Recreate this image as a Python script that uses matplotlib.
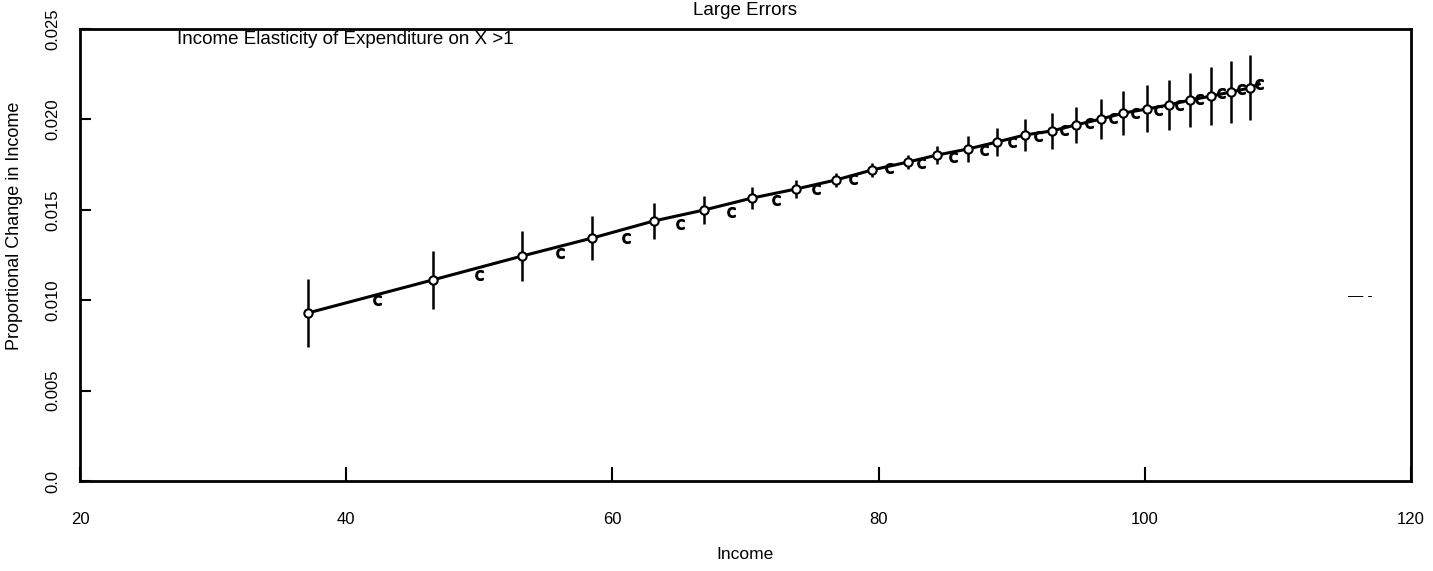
import numpy as np
import matplotlib
matplotlib.use("Agg")
import matplotlib.pyplot as plt

plt.rcParams['font.family'] = ['Liberation Sans', 'DejaVu Sans']

# points with error bars
income = [37.1, 46.5, 53.2, 58.5, 63.1, 66.9, 70.5, 73.8, 76.8, 79.5,
          82.2, 84.4, 86.7, 88.9, 91.0, 93.0, 94.8, 96.7, 98.4, 100.2,
          101.8, 103.4, 105.0, 106.5, 107.9]
prop_change = [0.00929, 0.01112, 0.01244, 0.01344, 0.01438, 0.01499, 0.01565,
               0.01615, 0.01665, 0.01720, 0.01764, 0.01803, 0.01836, 0.01875,
               0.01914, 0.01936, 0.01969, 0.02002, 0.02035, 0.02058, 0.02080,
               0.02107, 0.02129, 0.02152, 0.02174]
err = [0.0019, 0.0016, 0.0014, 0.0012, 0.0010, 0.0008, 0.0006, 0.0005, 0.0004,
       0.0004, 0.0004, 0.0005, 0.0007, 0.0008, 0.0009, 0.0010, 0.0010, 0.0011,
       0.0012, 0.0013, 0.0014, 0.0015, 0.0016, 0.0017, 0.0018]

# "c" points in between
income_c = [42.3, 50.0, 56.1, 61.0, 65.1, 68.9, 72.3, 75.3, 78.1, 80.8,
            83.2, 85.6, 87.9, 90.0, 92.0, 93.9, 95.8, 97.6, 99.3, 101.0,
            102.6, 104.1, 105.7, 107.2, 108.6]
prop_c = [0.01001, 0.01139, 0.01261, 0.01344, 0.01421, 0.01488, 0.01554,
          0.01615, 0.01670, 0.01731, 0.01759, 0.01792, 0.01831, 0.01875,
          0.01908, 0.01941, 0.01980, 0.02008, 0.02035, 0.02052, 0.02080,
          0.02113, 0.02146, 0.02168, 0.02196]

xticks = [20, 40, 60, 80, 100, 120]
yticks = [0.0, 0.005, 0.010, 0.015, 0.020, 0.025]
ytick_labels = ['0.0', '0.005', '0.010', '0.015', '0.020', '0.025']

fig = plt.figure(figsize=(14.33, 5.71), dpi=100)
ax = fig.add_axes([0.0558, 0.1576, 0.9288, 0.7916])

# line runs through the circles and out to the last c
line_x = income + [income_c[-1]]
line_y = prop_change + [prop_c[-1]]
ax.plot(line_x, line_y, color='black', lw=2.2, zorder=2)

ax.errorbar(income, prop_change, yerr=err, fmt='none', ecolor='black',
            elinewidth=1.8, capsize=0, zorder=3)
ax.plot(income, prop_change, 'o', mfc='white', mec='black', mew=1.5,
        ms=6, zorder=4)
ax.plot(income_c, prop_c, ls='none', marker=r'$\mathrm{c}$', color='black',
        ms=7, zorder=4)

ax.set_xlim(20, 120)
ax.set_ylim(0, 0.025)
ax.set_xticks(xticks)
ax.set_xticklabels([str(t) for t in xticks])
ax.set_yticks(yticks)
ax.set_yticklabels(ytick_labels, rotation=90, va='center')

ax.tick_params(axis='x', direction='in', length=10, width=1.5, pad=22,
               labelsize=12)
ax.tick_params(axis='y', direction='in', length=8, width=1.5, pad=14,
               labelsize=12)
for s in ax.spines.values():
    s.set_linewidth(2)

ax.set_xlabel('Income', fontsize=12.5, labelpad=15)
ax.set_ylabel('Proportional Change in Income', fontsize=13)
ax.yaxis.set_label_coords(-0.043, 0.565)
ax.set_title('Large Errors', fontsize=13.5, pad=10)

ax.text(27.3, 0.02417, 'Income Elasticity of Expenditure on X >1',
        fontsize=13.5, va='baseline', ha='left')
ax.text(0.962, 0.41, '\u2014 -', transform=ax.transAxes, fontsize=11,
        ha='center', va='center')

fig.savefig('out.png', dpi=100)
